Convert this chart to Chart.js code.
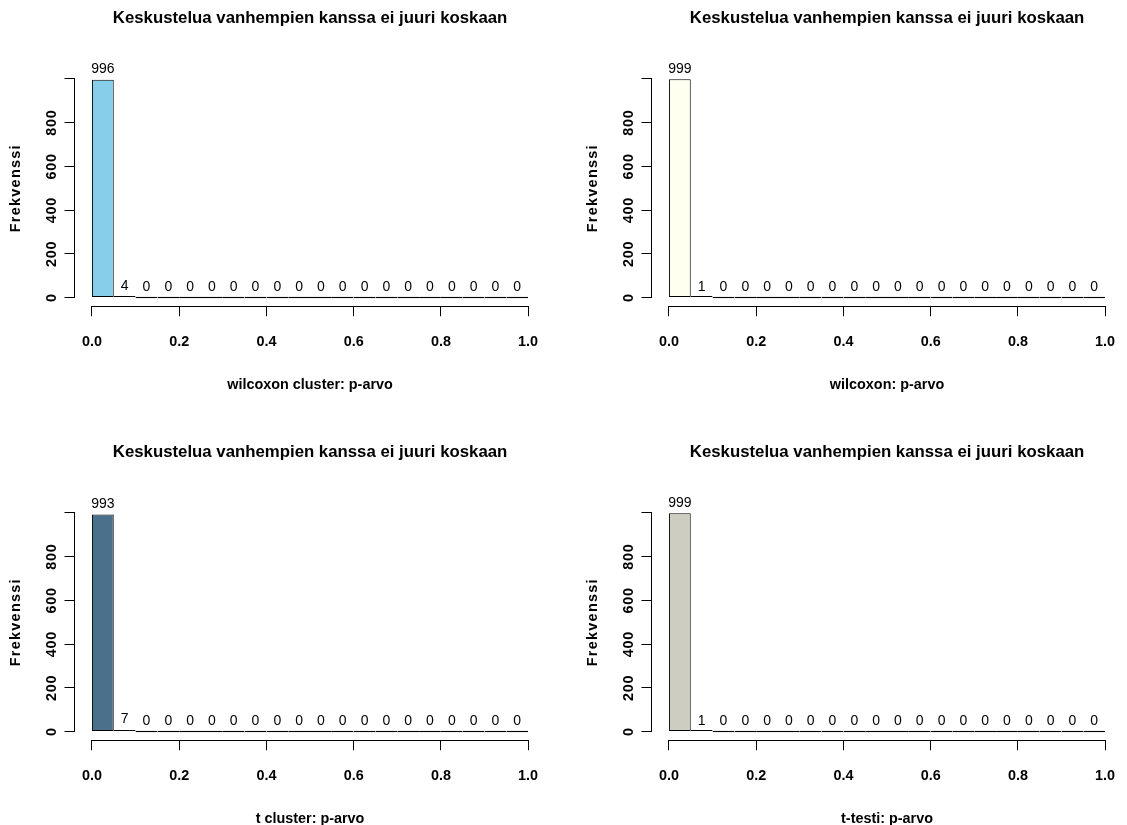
<!DOCTYPE html>
<html>
<head>
<meta charset="utf-8">
<script src="https://cdn.jsdelivr.net/npm/chart.js@4.4.1/dist/chart.umd.min.js"></script>
<style>
html, body { margin: 0; padding: 0; background: #ffffff; overflow: hidden; width: 1127px; height: 825px; }
canvas { position: absolute; }
</style>
</head>
<body>
<canvas id="c1" width="556" height="400" style="left:0px;top:0px"></canvas>
<canvas id="c2" width="556" height="400" style="left:577px;top:0px"></canvas>
<canvas id="c3" width="556" height="400" style="left:0px;top:434px"></canvas>
<canvas id="c4" width="556" height="400" style="left:577px;top:434px"></canvas>
<script>
// ---- data ----
const binCenters = [0.025, 0.075, 0.125, 0.175, 0.225, 0.275, 0.325, 0.375, 0.425, 0.475,
                    0.525, 0.575, 0.625, 0.675, 0.725, 0.775, 0.825, 0.875, 0.925, 0.975];
const countsWilcoxonCluster = [996, 4, 0, 0, 0, 0, 0, 0, 0, 0, 0, 0, 0, 0, 0, 0, 0, 0, 0, 0];
const countsWilcoxon        = [999, 1, 0, 0, 0, 0, 0, 0, 0, 0, 0, 0, 0, 0, 0, 0, 0, 0, 0, 0];
const countsTCluster        = [993, 7, 0, 0, 0, 0, 0, 0, 0, 0, 0, 0, 0, 0, 0, 0, 0, 0, 0, 0];
const countsTTest           = [999, 1, 0, 0, 0, 0, 0, 0, 0, 0, 0, 0, 0, 0, 0, 0, 0, 0, 0, 0];
const xTicks = [0, 0.2, 0.4, 0.6, 0.8, 1.0];
const xTickLabels = ['0.0', '0.2', '0.4', '0.6', '0.8', '1.0'];
const yTicks = [0, 200, 400, 600, 800, 1000];
const yTickLabels = ['0', '200', '400', '600', '800', ''];
const panelTitle = 'Keskustelua vanhempien kanssa ei juuri koskaan';
const yTitle = 'Frekvenssi';
const xTitles = ['wilcoxon cluster: p-arvo', 'wilcoxon: p-arvo', 't cluster: p-arvo', 't-testi: p-arvo'];
const barColors = ['#87CEEB', '#FFFFF0', '#4A708B', '#CDCDC1'];

// ---- styling ----
const FAMILY = "'Liberation Sans', Arial, Helvetica, sans-serif";
const boldFont = { family: FAMILY, size: 14.4, weight: 'bold' };

function alignPx(v) { return Math.round(v - 0.5) + 0.5; }

// spaced-out rotated text on the y axis, as in the reference
function spaceYAxisText(s) {
  if (s._spaced) return;
  s._spaced = true;
  const origTitle = s.drawTitle, origLabels = s.drawLabels;
  s.drawTitle = function () { const c = this.ctx; c.save(); c.letterSpacing = '1.3px'; origTitle.apply(this, arguments); c.restore(); };
  s.drawLabels = function () { const c = this.ctx; c.save(); c.letterSpacing = '0.8px'; origLabels.apply(this, arguments); c.restore(); };
}

const rAxesPlugin = {
  id: 'rAxes',
  afterDraw(chart) {
    const { ctx } = chart;
    const xs = chart.scales.x, ys = chart.scales.y;
    ctx.save();
    ctx.strokeStyle = '#000';
    ctx.lineWidth = 1;
    ctx.beginPath();
    const yLine = alignPx(xs.top);
    ctx.moveTo(alignPx(xs.getPixelForValue(xTicks[0])), yLine);
    ctx.lineTo(alignPx(xs.getPixelForValue(xTicks[xTicks.length - 1])), yLine);
    const xLine = alignPx(ys.right);
    ctx.moveTo(xLine, alignPx(ys.getPixelForValue(yTicks[0])));
    ctx.lineTo(xLine, alignPx(ys.getPixelForValue(yTicks[yTicks.length - 1])));
    ctx.stroke();
    ctx.restore();
  }
};

const countLabelPlugin = {
  id: 'countLabels',
  afterDatasetsDraw(chart) {
    const { ctx } = chart;
    const ys = chart.scales.y;
    const meta = chart.getDatasetMeta(0);
    const data = chart.data.datasets[0].data;
    ctx.save();
    ctx.fillStyle = '#000';
    ctx.font = '14px ' + FAMILY;
    ctx.textAlign = 'center';
    ctx.textBaseline = 'middle';
    meta.data.forEach((bar, i) => {
      const v = data[i].y;
      ctx.fillText(String(v), bar.x, ys.getPixelForValue(v) - 10.5);
    });
    ctx.restore();
  }
};

function makePanel(id, counts, xTitle, color) {
  new Chart(document.getElementById(id), {
    type: 'bar',
    data: {
      datasets: [{
        data: counts.map((c, i) => ({ x: binCenters[i], y: c })),
        backgroundColor: color,
        borderColor: '#000000',
        borderWidth: 1,
        borderSkipped: false,
        inflateAmount: 0,
        minBarLength: 1.5,
        categoryPercentage: 1,
        barPercentage: 1
      }]
    },
    options: {
      responsive: false,
      animation: false,
      events: [],
      layout: { padding: { top: 0, left: 0, right: 8.5, bottom: 6.76 } },
      plugins: {
        legend: { display: false },
        tooltip: { enabled: false },
        title: {
          display: true,
          text: panelTitle,
          fullSize: false,
          color: '#000',
          font: { family: FAMILY, size: 16.8, weight: 'bold' },
          padding: { top: 7.92, bottom: 42.1 }
        }
      },
      scales: {
        x: {
          type: 'linear',
          min: -0.04,
          max: 1.04,
          offset: false,
          afterBuildTicks: s => { s.ticks = xTicks.map(v => ({ value: v })); },
          afterFit: s => { s.height = 87; },
          ticks: {
            autoSkip: false,
            maxRotation: 0,
            color: '#000',
            font: boldFont,
            padding: 17.5,
            callback: (v, i) => xTickLabels[i]
          },
          grid: { offset: false, drawOnChartArea: false, drawTicks: true, tickLength: 10, color: '#000', lineWidth: 1 },
          border: { display: false },
          title: { display: true, text: xTitle, color: '#000', font: boldFont, padding: { top: 0, bottom: 0 } }
        },
        y: {
          type: 'linear',
          min: -40,
          max: 1040,
          afterBuildTicks: s => { s.ticks = yTicks.map(v => ({ value: v })); },
          afterFit: s => { s.width = 74.5; spaceYAxisText(s); },
          ticks: {
            autoSkip: false,
            minRotation: 90,
            maxRotation: 90,
            crossAlign: 'center',
            color: '#000',
            font: boldFont,
            padding: 0,
            callback: (v, i) => yTickLabels[i]
          },
          grid: { drawOnChartArea: false, drawTicks: true, tickLength: 10, color: '#000', lineWidth: 1 },
          border: { display: false },
          title: { display: true, text: yTitle, color: '#000', font: boldFont, padding: { top: 7.6, bottom: 0 } }
        }
      }
    },
    plugins: [rAxesPlugin, countLabelPlugin]
  });
}

makePanel('c1', countsWilcoxonCluster, xTitles[0], barColors[0]);
makePanel('c2', countsWilcoxon, xTitles[1], barColors[1]);
makePanel('c3', countsTCluster, xTitles[2], barColors[2]);
makePanel('c4', countsTTest, xTitles[3], barColors[3]);
</script>
</body>
</html>
